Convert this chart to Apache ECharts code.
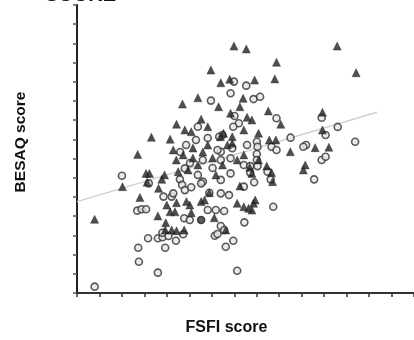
<!DOCTYPE html>
<html>
<head>
<meta charset="utf-8">
<script src="https://cdn.jsdelivr.net/npm/echarts@6/dist/echarts.min.js"></script>
<style>
html,body{margin:0;padding:0;background:#fff;}
#chart{width:414px;height:340px;}
</style>
</head>
<body>
<div id="chart"></div>
<script>
// FSFI score (x) vs BESAQ score (y)
const triangleX = [13.97,11.92,12.80,13.59,10.76,9.39,12.60,13.67,11.05,8.86,11.64,9.60,10.17,6.62,8.29,5.40,13.04,12.77,
  15.07,23.16,17.76,24.85,17.61,15.81,14.79,14.50,17.03,15.14,15.57,18.14,21.85,14.85,21.85,21.20,22.42,20.32,17.12,17.70,
  18.99,16.16,13.82,13.82,14.85,16.89,6.15,6.45,4.05,6.24,7.79,7.55,1.57,5.60,7.20,7.26,7.85,8.43,8.86,9.54,7.90,8.29,8.72,
  10.17,12.22,13.24,7.99,8.86,9.74,10.04,9.01,11.35,11.05,11.78,12.36,16.16,17.32,17.41,15.37,15.57,14.50,20.15,14.26,14.85,
  15.28,15.72,15.86,15.57,8.57,9.45,10.32,11.20,12.07,10.76,9.89,8.84,11.64,12.95,14.26,10.32,13.39];
const triangleY = [128.6,116.1,109.5,111.3,101.7,98.4,97.0,93.6,90.5,87.9,86.6,84.9,84.0,81.1,80.1,72.2,83.2,81.4,
  127.1,128.6,120.2,114.7,111.5,110.9,101.4,97.0,94.8,91.5,90.1,87.9,94.1,84.9,84.9,75.7,75.9,66.7,79.7,79.7,
  73.6,83.2,81.4,78.0,71.9,66.1,62.3,62.3,55.4,57.7,61.5,59.2,38.4,49.8,40.1,54.5,32.8,32.8,32.4,32.8,36.6,42.3,42.3,
  41.8,39.2,32.8,45.8,47.0,47.6,45.8,63.2,48.4,47.6,52.2,61.5,69.3,62.7,58.0,65.5,62.3,55.7,64.1,46.7,44.9,
  44.1,46.7,48.4,43.2,74.5,71.9,75.5,73.4,70.3,66.7,64.1,69.3,77.1,66.7,69.3,70.3,77.1];
const circleX = [13.97,13.67,11.92,10.76,15.07,15.72,16.30,14.02,17.76,21.78,23.21,14.41,13.91,19.01,22.13,24.76,20.39,20.15,
  21.78,22.13,17.32,17.76,16.01,16.07,15.14,13.82,12.95,12.66,16.01,16.01,14.85,15.42,12.80,13.67,4.00,6.39,5.36,5.75,6.15,
  6.33,5.45,5.51,7.20,1.57,7.85,7.20,7.61,8.14,8.81,9.45,7.61,9.54,10.04,12.36,11.64,13.10,12.80,12.27,13.91,13.24,14.26,
  7.70,8.43,8.57,9.16,9.36,9.60,10.17,9.60,11.20,11.05,11.78,12.80,13.53,12.80,13.67,12.80,16.07,16.96,17.24,15.42,14.85,
  15.77,21.11,17.47,14.90,13.10,12.51,9.19,10.06,11.20,12.07,10.76,9.71,12.51,11.64,10.59];
const circleY = [110.1,104.0,100.2,86.6,108.0,101.0,102.2,92.2,91.0,91.3,86.5,88.4,86.6,80.9,82.3,78.8,77.1,76.2,
  69.3,71.0,76.2,74.5,78.8,76.2,77.1,75.4,82.3,81.4,72.4,69.3,66.7,66.1,73.6,70.2,61.1,57.1,42.9,43.6,43.6,
  28.5,23.6,16.3,10.6,3.3,23.6,28.5,29.0,29.7,27.2,30.6,31.4,38.9,38.0,43.2,43.2,42.7,34.9,29.8,27.2,24.1,11.6,
  50.2,50.2,51.9,59.2,56.3,53.6,55.1,64.9,58.0,57.1,52.2,51.9,51.0,58.9,62.3,69.3,66.1,63.2,59.2,62.7,55.4,
  57.7,59.2,44.9,36.8,32.8,30.7,73.4,67.7,69.3,65.1,61.5,77.1,74.5,80.7,79.7];
const filledCircleX = [11.05];
const filledCircleY = [38.0];
const trendX = [0, 26.7];
const trendY = [47.6, 94.1];

const xTitle = 'FSFI score';
const yTitle = 'BESAQ score';
const topTitle = 'SCORE';

const zip = (a, b) => a.map((v, i) => [v, b[i]]);

const chart = echarts.init(document.getElementById('chart'), null, {renderer: 'canvas'});
chart.setOption({
  animation: false,
  backgroundColor: '#fff',
  grid: {left: 77, top: 5, width: 343, height: 288, containLabel: false},
  xAxis: {
    type: 'value', min: 0, max: 30, interval: 2,
    axisLine: {show: true, lineStyle: {color: '#333', width: 2}},
    axisTick: {show: true, inside: false, length: 4, lineStyle: {color: '#333', width: 1.5}},
    axisLabel: {show: false},
    splitLine: {show: false}
  },
  yAxis: {
    type: 'value', min: 0, max: 150, interval: 10,
    axisLine: {show: true, lineStyle: {color: '#222', width: 2}},
    axisTick: {show: true, inside: false, length: 4, lineStyle: {color: '#555', width: 1.5}},
    axisLabel: {show: false},
    splitLine: {show: false}
  },
  graphic: [
    {type: 'text', left: 45, top: -15, style: {text: topTitle, font: 'bold 20px "Liberation Sans", Arial, sans-serif', fill: '#111'}},
    {type: 'text', x: 226.5, y: 328, style: {text: xTitle, font: 'bold 16px "Liberation Sans", Arial, sans-serif', fill: '#111', align: 'center', verticalAlign: 'middle'}},
    {type: 'text', x: 21, y: 142, rotation: Math.PI / 2, style: {text: yTitle, font: 'bold 15.5px "Liberation Sans", Arial, sans-serif', fill: '#111', align: 'center', verticalAlign: 'middle'}}
  ],
  series: [
    {
      type: 'line', data: zip(trendX, trendY), symbol: 'none', silent: true,
      lineStyle: {color: '#d0d0d0', width: 1.5}, z: 1
    },
    {
      type: 'scatter', data: zip(circleX, circleY), symbol: 'circle', symbolSize: 7,
      itemStyle: {color: '#e6e6e6', borderColor: '#333', borderWidth: 1.6}, z: 2
    },
    {
      type: 'scatter', data: zip(filledCircleX, filledCircleY), symbol: 'circle', symbolSize: 7,
      itemStyle: {color: '#333', borderColor: '#222', borderWidth: 1.6}, z: 2
    },
    {
      type: 'scatter', data: zip(triangleX, triangleY), symbol: 'triangle', symbolSize: 8,
      itemStyle: {color: '#222', borderColor: '#222', borderWidth: 0.5}, z: 3
    }
  ]
});
</script>
</body>
</html>
